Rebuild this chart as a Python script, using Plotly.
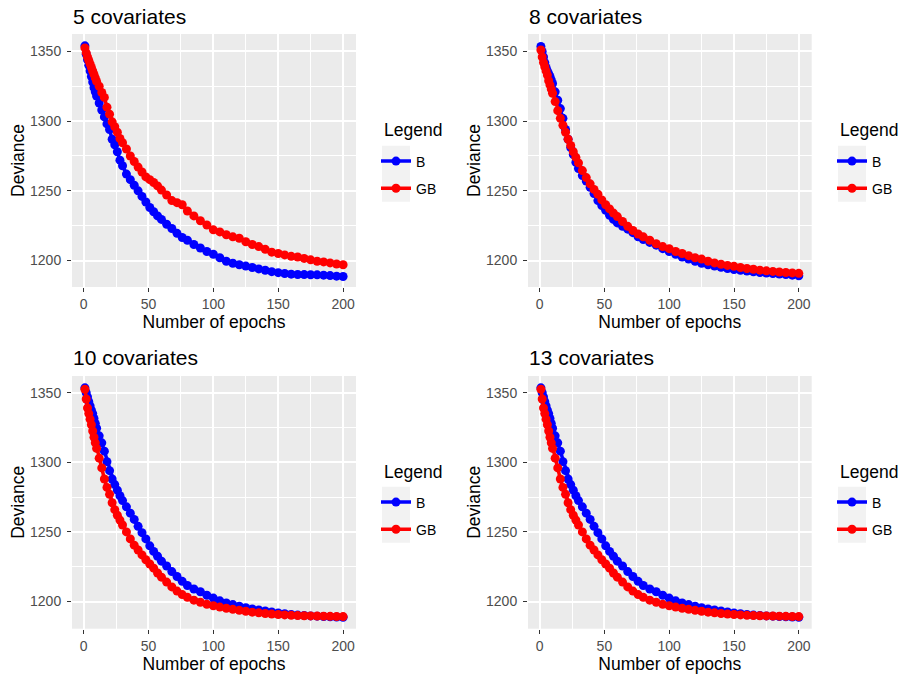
import plotly.graph_objects as go

# ---------------- data ----------------
epochs = [1, 2, 3, 4, 5, 6, 7, 8, 9, 10,
          12, 14, 16, 18, 20, 22, 24, 26, 28, 30,
          33, 36, 39, 42, 45, 48, 51, 54, 57, 60,
          64, 68, 72, 76, 80,
          85, 90, 95, 100, 105, 110, 115, 120, 125, 130, 135, 140, 145, 150,
          155, 160, 165, 170, 175, 180, 185, 190, 195, 200]

b_5 = [1354, 1348, 1344, 1340, 1336, 1332, 1328, 1324, 1321, 1318,
       1313, 1308, 1303, 1298, 1294, 1287, 1283, 1278, 1272, 1268,
       1262, 1258, 1254, 1250, 1246, 1242, 1238, 1235, 1232, 1229.5,
       1226, 1223, 1219.5, 1216.5, 1214.5,
       1211.5, 1209, 1206.5, 1204.5, 1202, 1199.5, 1198, 1197, 1196, 1195, 1194, 1193, 1192, 1191.3,
       1190.7, 1190.2, 1190, 1189.9, 1189.8, 1189.7, 1189.5, 1189.2, 1188.8, 1188.5]
gb_5 = [1352.5, 1349, 1346, 1343.5, 1341, 1338.5, 1336, 1333.5, 1331, 1328.5,
        1325, 1320.5, 1317, 1310, 1305, 1299.5, 1296, 1292, 1287.5, 1284.5,
        1280, 1275, 1271, 1267, 1263.5, 1260, 1258, 1256, 1253.5, 1250.5,
        1247, 1243, 1241.5, 1240, 1235.5,
        1232, 1228.5, 1225.5, 1222, 1220.5, 1218.5, 1217, 1216, 1213.5, 1211.5, 1210, 1208, 1206, 1205,
        1204, 1203, 1202.5, 1201.5, 1200.5, 1199.5, 1199, 1198.3, 1197.5, 1197]

b_8 = [1353.5, 1350, 1346, 1342, 1338.5, 1336, 1334, 1332, 1329.5, 1327,
       1321, 1315, 1309, 1302, 1294, 1287, 1281, 1276, 1270.5, 1266,
       1261, 1257, 1252.5, 1248, 1243, 1239.5, 1236, 1232.5, 1229.5, 1227,
       1224.5, 1222.5, 1220, 1217, 1215,
       1213, 1211, 1208.5, 1206.5, 1204.5, 1202.5, 1201, 1199.5, 1198, 1197, 1196, 1195.2, 1194.3, 1193.5,
       1193, 1192.4, 1191.9, 1191.4, 1191, 1190.6, 1190.3, 1189.9, 1189.5, 1189]
gb_8 = [1351, 1346, 1342, 1339, 1336, 1333, 1329, 1326, 1323, 1320,
        1314, 1307.5, 1302, 1297, 1292, 1287, 1282.5, 1278, 1274, 1270,
        1264.5, 1259.5, 1255, 1251, 1247.5, 1243.5, 1240, 1237, 1234, 1231.5,
        1228, 1224.5, 1221.5, 1219, 1217,
        1214.5, 1212, 1210, 1208.5, 1206.5, 1205, 1203.5, 1202, 1201, 1199.5, 1198.3, 1197.3, 1196.5, 1195.8,
        1195, 1194.3, 1193.7, 1193.1, 1192.6, 1192.2, 1191.8, 1191.4, 1191.1, 1190.8]

b_10 = [1353.5, 1350, 1347, 1343.5, 1340.5, 1337.5, 1335, 1331.5, 1328, 1324.5,
        1319, 1314, 1308, 1300.5, 1294, 1288, 1284, 1280, 1276, 1272.5,
        1268, 1263.5, 1259, 1254, 1249.5, 1245, 1240, 1236, 1232.5, 1229,
        1225.5, 1221.5, 1218, 1214.5, 1211.5,
        1209, 1207, 1204.5, 1202.5, 1200.5, 1199, 1197.8, 1196.6, 1195.6, 1194.7, 1193.9, 1193.2, 1192.5, 1191.8,
        1191.2, 1190.7, 1190.3, 1190, 1189.7, 1189.5, 1189.3, 1189.1, 1188.9, 1188.7]
gb_10 = [1352.5, 1345.5, 1339, 1335, 1331, 1327, 1322.5, 1318, 1314, 1310,
         1303, 1296, 1288, 1282, 1277, 1271, 1266, 1262, 1258.5, 1255,
         1250, 1245, 1240.5, 1237, 1233.5, 1230, 1227, 1224, 1220.5, 1217.5,
         1214, 1210.5, 1207.5, 1205, 1203,
         1201, 1199.5, 1198, 1197, 1196, 1195.2, 1194.4, 1193.7, 1193, 1192.4, 1191.9, 1191.4, 1191, 1190.7,
         1190.4, 1190.1, 1189.9, 1189.8, 1189.7, 1189.6, 1189.5, 1189.4, 1189.3, 1189.2]

b_13 = [1353.5, 1350, 1347, 1343.5, 1340.5, 1337.5, 1335, 1331.5, 1328, 1324.5,
        1319, 1314, 1308, 1300.5, 1294, 1288, 1284, 1280, 1276, 1272.5,
        1268, 1263.5, 1259, 1254, 1249.5, 1245, 1240, 1236, 1232.5, 1229,
        1225.5, 1221.5, 1218, 1214.5, 1211.5,
        1209, 1207, 1204.5, 1202.5, 1200.5, 1199, 1197.8, 1196.6, 1195.6, 1194.7, 1193.9, 1193.2, 1192.5, 1191.8,
        1191.2, 1190.7, 1190.3, 1190, 1189.7, 1189.5, 1189.3, 1189.1, 1188.9, 1188.7]
gb_13 = [1352.5, 1345.5, 1339, 1335, 1331, 1327, 1322.5, 1318, 1314, 1310,
         1303, 1296, 1288, 1282, 1277, 1271, 1266, 1262, 1258.5, 1255,
         1250, 1245, 1240.5, 1237, 1233.5, 1230, 1227, 1224, 1220.5, 1217.5,
         1214, 1210.5, 1207.5, 1205, 1203,
         1201, 1199.5, 1198, 1197, 1196, 1195.2, 1194.4, 1193.7, 1193, 1192.4, 1191.9, 1191.4, 1191, 1190.7,
         1190.4, 1190.1, 1189.9, 1189.8, 1189.7, 1189.6, 1189.5, 1189.4, 1189.3, 1189.2]

panel_titles = ["5 covariates", "8 covariates", "10 covariates", "13 covariates"]
legend_title = "Legend"
series_names = ["B", "GB"]
series_colors = ["#0000FF", "#FF0000"]
x_ticks = [0, 50, 100, 150, 200]
y_ticks = [1200, 1250, 1300, 1350]
panels = [(b_5, gb_5), (b_8, gb_8), (b_10, gb_10), (b_13, gb_13)]

# ---------------- layout geometry (pixels) ----------------
W, H = 901, 674
FONT = "Liberation Sans, Arial, Helvetica, sans-serif"
col_px = [(72, 356), (528, 811.7)]
row_px = [(34, 287), (376, 628.7)]
y_ranges = [[1181, 1362.5], [1181, 1362.5], [1180.5, 1362], [1180.5, 1362]]
legend_left = [376, 832]
legend_top = [145.5, 486.5]
legend_title_xy = [(382, 838), (130, 472)]
key_box_x = [(382, 410), (838, 866)]
key_box_y = [(145.7, 201.7), (486.7, 542.7)]
title_y = [16, 357]

fig = go.Figure()
layout = dict(
    width=W, height=H, margin=dict(l=0, r=0, t=0, b=0),
    paper_bgcolor="white", plot_bgcolor="#EBEBEB",
    font=dict(family=FONT, color="black"),
    showlegend=True, annotations=[], shapes=[],
)

for i, (bvals, gbvals) in enumerate(panels):
    r, c = divmod(i, 2)
    ax = "" if i == 0 else str(i + 1)
    leg = "legend" if i == 0 else f"legend{i + 1}"
    for name, col, vals in zip(series_names, series_colors, (bvals, gbvals)):
        fig.add_trace(go.Scatter(
            x=epochs, y=vals, mode="lines+markers", name=name,
            line=dict(color=col, width=3.5),
            marker=dict(color=col, size=9, line=dict(width=0)),
            xaxis="x" + ax, yaxis="y" + ax, legend=leg, legendgroup=f"{leg}_{name}",
        ))
    x0, x1 = col_px[c]
    y0, y1 = row_px[r]
    layout["xaxis" + ax] = dict(
        domain=[x0 / W, x1 / W], range=[-8.95, 209.95], anchor="y" + ax,
        tickvals=x_ticks, ticks="outside", ticklen=4, tickwidth=1.2, tickcolor="#333333",
        tickfont=dict(size=14, color="#4D4D4D", family=FONT),
        showgrid=True, gridcolor="white", gridwidth=1.5, zeroline=False, showline=False,
        minor=dict(dtick=25, tick0=0, showgrid=True, gridcolor="white", gridwidth=0.8, ticks=""),
        title=dict(text="Number of epochs", font=dict(size=17.5, color="black", family=FONT), standoff=0),
    )
    layout["yaxis" + ax] = dict(
        domain=[1 - y1 / H, 1 - y0 / H], range=y_ranges[i], anchor="x" + ax,
        tickvals=y_ticks, ticks="outside", ticklen=4, tickwidth=1.2, tickcolor="#333333",
        tickfont=dict(size=14, color="#4D4D4D", family=FONT), ticklabelstandoff=3,
        showgrid=True, gridcolor="white", gridwidth=1.5, zeroline=False, showline=False,
        minor=dict(dtick=25, tick0=1200, showgrid=True, gridcolor="white", gridwidth=0.8, ticks=""),
        title=dict(text="Deviance", font=dict(size=17.5, color="black", family=FONT), standoff=0),
    )
    layout[leg] = dict(
        x=legend_left[c] / W, y=1 - legend_top[r] / H, xanchor="left", yanchor="top",
        bgcolor="rgba(0,0,0,0)", borderwidth=0,
        font=dict(size=14, color="black", family=FONT),
        itemwidth=30, tracegroupgap=6,
    )
    kx0, kx1 = key_box_x[c]
    ky0, ky1 = key_box_y[r]
    layout["shapes"].append(dict(
        type="rect", xref="paper", yref="paper", layer="below",
        x0=kx0 / W, x1=kx1 / W, y0=1 - ky1 / H, y1=1 - ky0 / H,
        fillcolor="#F2F2F2", line=dict(width=0),
    ))
    layout["annotations"].append(dict(
        text=legend_title, xref="paper", yref="paper",
        x=legend_title_xy[0][c] / W, y=1 - legend_title_xy[1][r] / H,
        xanchor="left", yanchor="middle", showarrow=False,
        font=dict(size=17.5, color="black", family=FONT),
    ))
    layout["annotations"].append(dict(
        text=panel_titles[i], xref="paper", yref="paper", x=x0 / W - 1 / W, y=1 - title_y[r] / H,
        xanchor="left", yanchor="middle", showarrow=False,
        font=dict(size=21, color="black", family=FONT),
    ))

fig.update_layout(**layout)
fig.write_html("out.html")
